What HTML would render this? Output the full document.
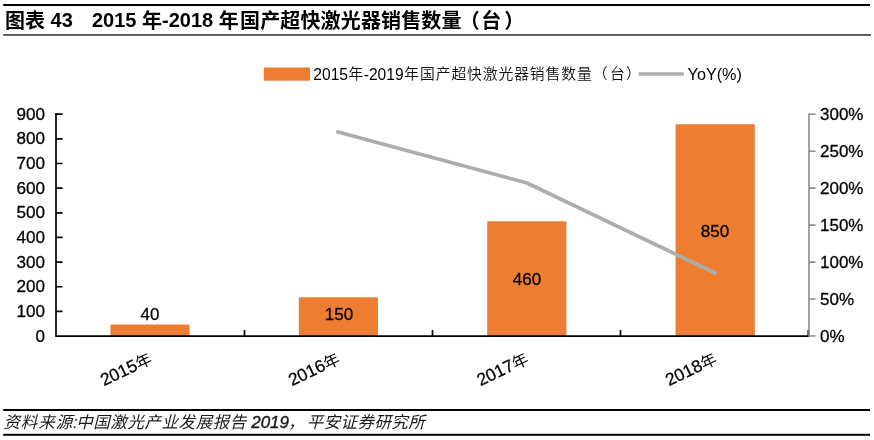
<!DOCTYPE html>
<html lang="zh">
<head>
<meta charset="utf-8">
<title>图表 43</title>
<style>
html,body{margin:0;padding:0;background:#fff;}
body{width:874px;height:440px;overflow:hidden;position:relative;font-family:"Liberation Sans","Noto Sans CJK SC",sans-serif;}
svg{position:absolute;left:0;top:0;display:block;}
text{font-family:"Liberation Sans","Noto Sans CJK SC",sans-serif;fill:#000;}
.b{stroke:#000;stroke-width:0.28px;}
.fb{stroke:#1a1a1a;stroke-width:0.4px;}
.lc{font-size:14.8px;letter-spacing:0.9px;font-weight:350;fill:#111;}
.ft{font-family:"Liberation Sans","Noto Sans CJK SC",sans-serif;font-style:italic;fill:#1a1a1a;}
</style>
</head>
<body>
<svg width="874" height="440" viewBox="0 0 874 440">
  <rect x="0" y="0" width="874" height="440" fill="#ffffff"/>
  <!-- header -->
  <rect x="3.2" y="4" width="866.8" height="2" fill="#000"/>
  <text y="27" font-size="20" font-weight="bold" xml:space="preserve"><tspan x="5" y="27.6">图表</tspan><tspan y="27"> 43   </tspan><tspan x="92">2015 </tspan><tspan y="27.6">年</tspan><tspan y="27">-2018 </tspan><tspan y="27.6">年</tspan><tspan x="240" letter-spacing="0.15">国产超快激光器销售数量</tspan><tspan dx="-2">（</tspan><tspan dx="1.5">台</tspan><tspan dx="3">）</tspan></text>
  <rect x="3.2" y="34.1" width="867.8" height="1.7" fill="#444"/>
  <!-- legend -->
  <rect x="263.8" y="67.5" width="46.2" height="13.2" fill="#ED7D31"/>
  <text y="80" font-size="15.6"><tspan x="313.3">2015</tspan><tspan class="lc" x="348.4" y="79.3">年</tspan><tspan x="363.7" y="80">-2019</tspan><tspan class="lc" x="404.3" y="79.3">年国产超快激光器销售数量（</tspan><tspan class="lc" x="610">台</tspan><tspan class="lc" x="626">）</tspan></text>
  <line x1="638.7" y1="74" x2="683.8" y2="74" stroke="#ADADAD" stroke-width="3.6"/>
  <text x="687.6" y="80" font-size="16.2">YoY(%)</text>
  <!-- bars -->
  <rect x="110.4" y="324.6" width="79.2" height="11.45" rx="1" fill="#ED7D31"/>
  <rect x="298.8" y="297.3" width="79.2" height="38.75" rx="1" fill="#ED7D31"/>
  <rect x="487.2" y="221.2" width="79.2" height="114.85" rx="1" fill="#ED7D31"/>
  <rect x="675.6" y="124.3" width="79.2" height="211.75" rx="1" fill="#ED7D31"/>
  <!-- line -->
  <polyline points="338,132 527,183 715,273" fill="none" stroke="#ADADAD" stroke-width="3.7" stroke-linecap="round" stroke-linejoin="round"/>
  <!-- axes -->
  <path d="M56,113 V336.85 M55.2,336.05 H809 M56,311.4 H62.5 M56,286.75 H62.5 M56,262.1 H62.5 M56,237.45 H62.5 M56,212.8 H62.5 M56,188.15 H62.5 M56,163.5 H62.5 M56,138.85 H62.5 M56,114.2 H62.5 M244.5,330 V336.05 M432.5,330 V336.05 M620.5,330 V336.05 M808.3,330 V336.05" stroke="#000" stroke-width="1.7" fill="none"/>
  <path d="M809,113.2 V336.85 M809,336.05 H815.5 M809,299.07 H815.5 M809,262.1 H815.5 M809,225.12 H815.5 M809,188.15 H815.5 M809,151.18 H815.5 M809,114.2 H815.5" stroke="#8c8c8c" stroke-width="1.6" fill="none"/>
  <!-- left labels -->
  <g font-size="17.1" text-anchor="end" class="b">
    <text x="45" y="119.8">900</text>
    <text x="45" y="144.45">800</text>
    <text x="45" y="169.1">700</text>
    <text x="45" y="193.75">600</text>
    <text x="45" y="218.4">500</text>
    <text x="45" y="243.05">400</text>
    <text x="45" y="267.7">300</text>
    <text x="45" y="292.35">200</text>
    <text x="45" y="317">100</text>
    <text x="45" y="341.65">0</text>
  </g>
  <!-- right labels -->
  <g font-size="17" class="b">
    <text x="820" y="119.9">300%</text>
    <text x="820" y="156.88">250%</text>
    <text x="820" y="193.85">200%</text>
    <text x="820" y="230.82">150%</text>
    <text x="820" y="267.8">100%</text>
    <text x="820" y="304.77">50%</text>
    <text x="820" y="341.75">0%</text>
  </g>
  <!-- data labels -->
  <g font-size="17" text-anchor="middle" class="b">
    <text x="150" y="319.6">40</text>
    <text x="339" y="319.8">150</text>
    <text x="527" y="285">460</text>
    <text x="715" y="237">850</text>
  </g>
  <!-- category labels -->
  <g font-size="17.4" text-anchor="end" class="b">
    <text transform="translate(153.25,362.75) rotate(-25.5)">2015<tspan font-size="16" stroke="none">年</tspan></text>
    <text transform="translate(341.25,362.75) rotate(-25.5)">2016<tspan font-size="16" stroke="none">年</tspan></text>
    <text transform="translate(529.75,362.75) rotate(-25.5)">2017<tspan font-size="16" stroke="none">年</tspan></text>
    <text transform="translate(718.25,362.75) rotate(-25.5)">2018<tspan font-size="16" stroke="none">年</tspan></text>
  </g>
  <!-- footer -->
  <rect x="3.2" y="409" width="866.8" height="2" fill="#000"/>
  <text class="ft" y="428" font-size="16.5" xml:space="preserve"><tspan x="3.45" letter-spacing="0.9">资料来源:</tspan><tspan x="76.2" letter-spacing="0.57">中国激光产业发展报告 </tspan><tspan x="251.2" class="fb" font-size="17">2019</tspan><tspan x="288">，</tspan><tspan x="306.8" letter-spacing="0.4">平安证券研究所</tspan></text>
  <rect x="3.2" y="433.8" width="866.8" height="2" fill="#000"/>
</svg>
</body>
</html>
